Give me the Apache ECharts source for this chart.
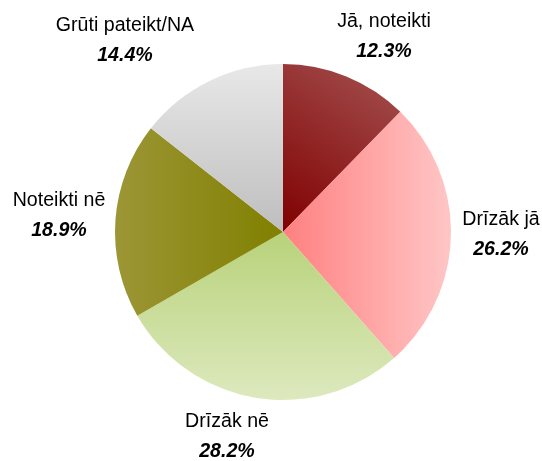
<!DOCTYPE html>
<html>
<head>
<meta charset="utf-8">
<script src="https://cdn.jsdelivr.net/npm/echarts@6/dist/echarts.min.js"></script>
<style>
  html, body { margin: 0; padding: 0; background: #fff; }
  #chart { width: 542px; height: 461px; }
</style>
</head>
<body>
<div id="chart"></div>
<script>
// categories and shares (%), clockwise from 12 o'clock
const categories = ['Jā, noteikti', 'Drīzāk jā', 'Drīzāk nē', 'Noteikti nē', 'Grūti pateikt/NA']
const shares = [12.3, 26.2, 28.2, 18.9, 14.4]

// gradient per slice: [x, y, x2, y2, from, to]
const fills = [
  [0, 1, 1, 0, '#800000', '#a55252'],
  [0, 0, 1, 0, '#ff8080', '#ffc6c6'],
  [0, 0, 0, 1, '#b8d27a', '#dde9be'],
  [0, 0, 1, 0, '#9c9636', '#808000'],
  [0, 0, 0, 1, '#e8e8e8', '#bebebe']
]
// where each label block is centred
const labelSpots = [[384, 37], [501, 235], [227, 437], [59, 216], [125, 41]]

const chart = echarts.init(document.getElementById('chart'))

const data = categories.map((name, i) => {
  const f = fills[i]
  return {
    name: name,
    value: shares[i],
    itemStyle: {
      color: new echarts.graphic.LinearGradient(f[0], f[1], f[2], f[3], [
        { offset: 0, color: f[4] },
        { offset: 1, color: f[5] }
      ])
    }
  }
})

chart.setOption({
  backgroundColor: '#fff',
  animation: false,
  series: [{
    type: 'pie',
    center: [283, 232],
    radius: [0, 168],
    startAngle: 90,
    clockwise: true,
    avoidLabelOverlap: false,
    data: data,
    itemStyle: { borderWidth: 0 },
    emphasis: { disabled: true },
    labelLine: { show: false },
    label: {
      show: true,
      position: 'outside',
      formatter: p => '{n|' + p.name + '}\n{v|' + p.value.toFixed(1) + '%}',
      rich: {
        n: { fontFamily: 'Liberation Sans', fontSize: 19.6, color: '#000', lineHeight: 30, align: 'center' },
        v: { fontFamily: 'Liberation Sans', fontSize: 19.6, fontWeight: 'bold', fontStyle: 'italic', color: '#000', lineHeight: 30, align: 'center' }
      }
    },
    labelLayout: p => ({
      x: labelSpots[p.dataIndex][0],
      y: labelSpots[p.dataIndex][1],
      align: 'center',
      verticalAlign: 'middle'
    })
  }]
})
</script>
</body>
</html>
